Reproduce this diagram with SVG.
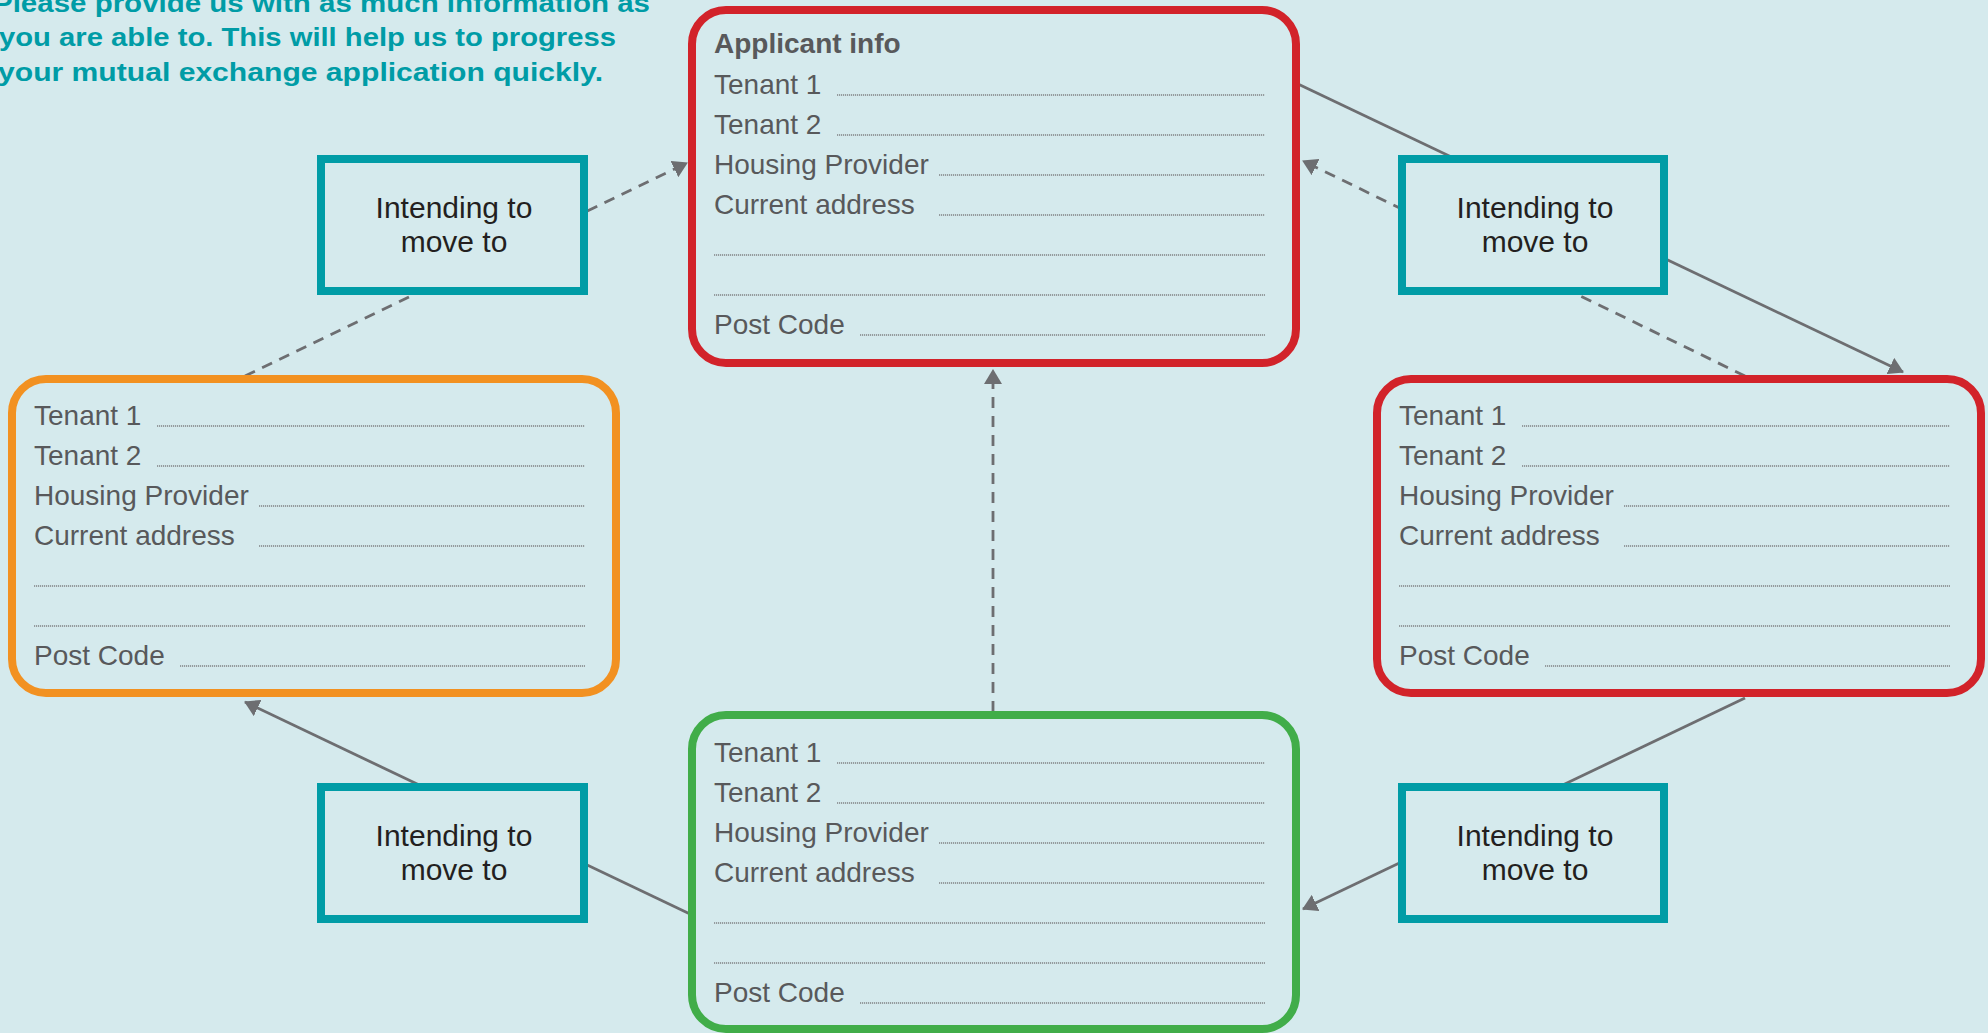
<svg xmlns="http://www.w3.org/2000/svg" width="1988" height="1033" viewBox="0 0 1988 1033">
  <style>
    .bg { fill: #d5eaed; }
    .form { fill: #d5eaed; stroke-width: 8; }
    .red { stroke: #d2232a; }
    .orange { stroke: #f29121; }
    .green { stroke: #41ad49; }
    .teal { fill: #d5eaed; stroke: #009ca6; stroke-width: 8; }
    .lbl { font-family: "Liberation Sans", Arial, sans-serif; font-size: 28px; fill: #58595b; }
    .hdr { font-family: "Liberation Sans", Arial, sans-serif; font-size: 28px; font-weight: bold; fill: #58595b; }
    .mv { font-family: "Liberation Sans", Arial, sans-serif; font-size: 30px; fill: #231f20; text-anchor: middle; }
    .intro { font-family: "Liberation Sans", Arial, sans-serif; font-size: 26px; font-weight: bold; fill: #009ca6; }
    .fill { stroke: #808285; stroke-width: 1.3; stroke-dasharray: 1.2 0.8; fill: none; }
    .conn { stroke: #6d6e71; stroke-width: 2.8; fill: none; }
    .dash { stroke-dasharray: 11 8; }
  </style>
  <defs>
    <marker id="arrow" markerUnits="userSpaceOnUse" markerWidth="15" markerHeight="18" refX="14" refY="9" orient="auto" viewBox="0 0 15 18">
      <path d="M0,0 L15,9 L0,18 Z" fill="#6d6e71"/>
    </marker>
  </defs>

  <rect class="bg" x="0" y="0" width="1988" height="1033"/>

  <g id="intro">
    <text class="intro" x="-7" y="12" textLength="657" lengthAdjust="spacingAndGlyphs">Please provide us with as much information as</text>
    <text class="intro" x="-1" y="46" textLength="617" lengthAdjust="spacingAndGlyphs">you are able to. This will help us to progress</text>
    <text class="intro" x="-2" y="81" textLength="605" lengthAdjust="spacingAndGlyphs">your mutual exchange application quickly.</text>
  </g>

  <g id="connectors">
    <path class="conn dash" d="M245,376 L687,163" marker-end="url(#arrow)"/>
    <path class="conn" d="M1298,84 L1903,372" marker-end="url(#arrow)"/>
    <path class="conn dash" d="M1745,376 L1303,161" marker-end="url(#arrow)"/>
    <path class="conn" d="M1745,698 L1303,909" marker-end="url(#arrow)"/>
    <path class="conn" d="M690,914 L245,702" marker-end="url(#arrow)"/>
    <path class="conn dash" d="M993,712 L993,370" marker-end="url(#arrow)"/>
  </g>

  <g id="applicant">
    <rect class="form red" x="692" y="10" width="604" height="353" rx="34" ry="34"/>
    <text class="hdr" x="714" y="53">Applicant info</text>
    <g transform="translate(714,94)">
      <text class="lbl" x="0" y="0">Tenant 1</text>
      <text class="lbl" x="0" y="40">Tenant 2</text>
      <text class="lbl" x="0" y="80">Housing Provider</text>
      <text class="lbl" x="0" y="120">Current address</text>
      <text class="lbl" x="0" y="240">Post Code</text>
      <path class="fill" d="M123,1 H551 M123,41 H551 M225,81 H551 M225,121 H551 M0,161 H551 M0,201 H551 M146,241 H551"/>
    </g>
  </g>

  <g id="tenant-left">
    <rect class="form orange" x="12" y="379" width="604" height="314" rx="34" ry="34"/>
    <g transform="translate(34,425)">
      <text class="lbl" x="0" y="0">Tenant 1</text>
      <text class="lbl" x="0" y="40">Tenant 2</text>
      <text class="lbl" x="0" y="80">Housing Provider</text>
      <text class="lbl" x="0" y="120">Current address</text>
      <text class="lbl" x="0" y="240">Post Code</text>
      <path class="fill" d="M123,1 H551 M123,41 H551 M225,81 H551 M225,121 H551 M0,161 H551 M0,201 H551 M146,241 H551"/>
    </g>
  </g>

  <g id="tenant-right">
    <rect class="form red" x="1377" y="379" width="604" height="314" rx="34" ry="34"/>
    <g transform="translate(1399,425)">
      <text class="lbl" x="0" y="0">Tenant 1</text>
      <text class="lbl" x="0" y="40">Tenant 2</text>
      <text class="lbl" x="0" y="80">Housing Provider</text>
      <text class="lbl" x="0" y="120">Current address</text>
      <text class="lbl" x="0" y="240">Post Code</text>
      <path class="fill" d="M123,1 H551 M123,41 H551 M225,81 H551 M225,121 H551 M0,161 H551 M0,201 H551 M146,241 H551"/>
    </g>
  </g>

  <g id="tenant-bottom">
    <rect class="form green" x="692" y="715" width="604" height="314" rx="34" ry="34"/>
    <g transform="translate(714,762)">
      <text class="lbl" x="0" y="0">Tenant 1</text>
      <text class="lbl" x="0" y="40">Tenant 2</text>
      <text class="lbl" x="0" y="80">Housing Provider</text>
      <text class="lbl" x="0" y="120">Current address</text>
      <text class="lbl" x="0" y="240">Post Code</text>
      <path class="fill" d="M123,1 H551 M123,41 H551 M225,81 H551 M225,121 H551 M0,161 H551 M0,201 H551 M146,241 H551"/>
    </g>
  </g>

  <g id="move-top-left">
    <rect class="teal" x="321" y="159" width="263" height="132"/>
    <text class="mv" x="454" y="218">Intending to</text>
    <text class="mv" x="454" y="252">move to</text>
  </g>

  <g id="move-top-right">
    <rect class="teal" x="1402" y="159" width="262" height="132"/>
    <text class="mv" x="1535" y="218">Intending to</text>
    <text class="mv" x="1535" y="252">move to</text>
  </g>

  <g id="move-bottom-left">
    <rect class="teal" x="321" y="787" width="263" height="132"/>
    <text class="mv" x="454" y="846">Intending to</text>
    <text class="mv" x="454" y="880">move to</text>
  </g>

  <g id="move-bottom-right">
    <rect class="teal" x="1402" y="787" width="262" height="132"/>
    <text class="mv" x="1535" y="846">Intending to</text>
    <text class="mv" x="1535" y="880">move to</text>
  </g>
</svg>
